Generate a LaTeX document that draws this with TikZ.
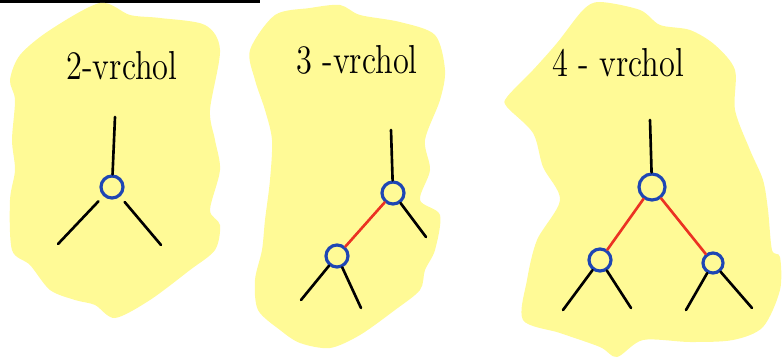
\documentclass[tikz,border=0pt]{standalone}
\usepackage{tikz}
\usepackage{graphicx}
\usetikzlibrary{shapes}
\definecolor{hiyellow}{RGB}{255, 250, 150}
\definecolor{nodeblue}{RGB}{30, 70, 180}
\definecolor{edgered}{RGB}{235, 50, 35}
\newcommand{\handtxt}[1]{\scalebox{0.8}[1]{#1}}
\tikzset{
  blob/.style={fill=hiyellow, draw=none},
  vtx/.style={circle, draw=nodeblue, line width=0.9pt, inner sep=0pt, minimum size=#1},
  vtx/.default=0.22cm,
  stem/.style={line width=0.75pt, line cap=round},
  redge/.style={edgered, line width=0.75pt, line cap=round},
  title/.style={font=\fontsize{11.5}{13}\selectfont}
}
\begin{document}
\begin{tikzpicture}[x=0.01cm, y=-0.01cm]
        \useasboundingbox (0,0) rectangle (782,364);
        % Top rule
        \draw[line width=0.85pt] (0,1.5) -- (260,1.5);

        % Highlight blobs
        \fill[blob] plot [smooth cycle] coordinates {(100,3) (130,15) (160,18) (205,25) (220,50) (210,110) (215,140) (220,170) (210,210) (220,225) (215,250) (190,270) (150,300) (115,318) (95,305) (75,300) (50,290) (30,265) (12,250) (10,200) (15,170) (12,140) (15,100) (10,80) (20,55) (50,30)};
        \fill[blob] plot [smooth cycle] coordinates {(275,15) (310,8) (340,5) (360,15) (400,22) (435,35) (445,70) (440,100) (425,140) (430,170) (420,200) (440,215) (435,250) (425,270) (420,290) (395,310) (360,335) (330,348) (300,343) (280,330) (258,310) (255,280) (262,250) (265,220) (270,180) (272,140) (265,110) (255,80) (250,50)};
        \fill[blob] plot [smooth cycle] coordinates {(600,2) (640,10) (660,25) (690,30) (715,45) (735,70) (735,110) (750,150) (763,180) (768,210) (772,250) (780,257) (780,290) (763,327) (733,340) (690,342) (643,340) (617,357) (600,347) (560,333) (523,320) (527,280) (537,240) (560,200) (543,167) (533,133) (507,107) (507,97) (533,70) (557,43) (583,10)};

        % Titles
        \node[title] (t2) at (122,66) {\handtxt{2-vrchol}};
        \node[title] (t3) at (357,60) {\handtxt{3 -vrchol}};
        \node[title] (t4) at (618,63) {\handtxt{4 - vrchol}};

        % Tree 1
        \coordinate (r1) at (115,117);
        \node[vtx] (a1) at (112,187) {};
        \coordinate (a1l) at (58,244);
        \coordinate (a1r) at (161,245);
        \draw[stem] (r1) -- (a1);
        \draw[stem, shorten <=2pt] (a1) -- (a1l);
        \draw[stem, shorten <=2pt] (a1) -- (a1r);

        % Tree 2
        \coordinate (r2) at (391,130);
        \node[vtx] (b1) at (393,193) {};
        \node[vtx] (b2) at (337,256) {};
        \coordinate (b1r) at (426,237);
        \coordinate (b2l) at (301,300);
        \coordinate (b2r) at (361,308);
        \draw[stem] (r2) -- (b1);
        \draw[redge] (b1) -- (b2);
        \draw[stem] (b1) -- (b1r);
        \draw[stem] (b2) -- (b2l);
        \draw[stem] (b2) -- (b2r);

        % Tree 3
        \coordinate (r3) at (650,120);
        \node[vtx=0.26cm] (c1) at (652,187) {};
        \node[vtx] (c2) at (600,260) {};
        \node[vtx=0.2cm] (c3) at (713,263) {};
        \coordinate (c2l) at (563,310);
        \coordinate (c2r) at (631,308);
        \coordinate (c3l) at (686,310);
        \coordinate (c3r) at (752,308);
        \draw[stem] (r3) -- (c1);
        \draw[redge] (c1) -- (c2);
        \draw[redge] (c1) -- (c3);
        \draw[stem] (c2) -- (c2l);
        \draw[stem] (c2) -- (c2r);
        \draw[stem] (c3) -- (c3l);
        \draw[stem] (c3) -- (c3r);
    \end{tikzpicture}
\end{document}
